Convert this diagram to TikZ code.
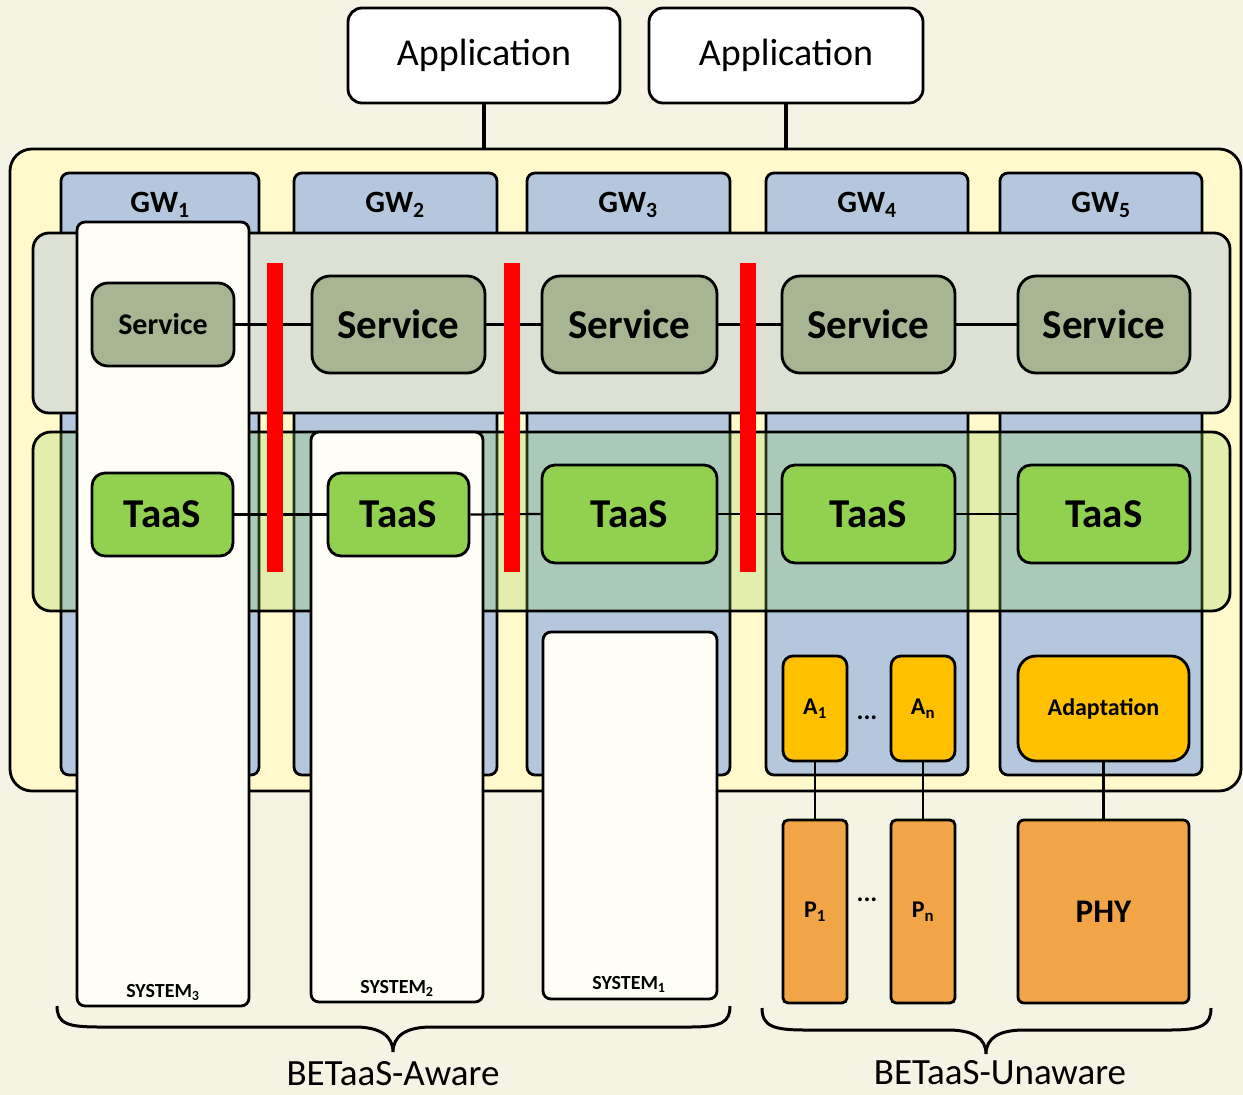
\documentclass[tikz,border=0pt]{standalone}
\usepackage{fontspec}
\setmainfont{Carlito}
\usetikzlibrary{fit}
\definecolor{cBg}{HTML}{F5F3E3}
\definecolor{cOuter}{HTML}{FFF9CC}
\definecolor{cGw}{HTML}{B4C7DD}
\definecolor{cSvcBand}{HTML}{DCE1D4}
\definecolor{cSvc}{HTML}{A7B592}
\definecolor{cTaas}{HTML}{92D050}
\definecolor{cSys}{HTML}{FEFEF6}
\definecolor{cAdapt}{HTML}{FFC000}
\definecolor{cPhy}{HTML}{F2A546}
\tikzset{
  base/.style={draw=black, line width=2.8pt, inner sep=0pt},
  outerbox/.style={base, fill=cOuter, rounded corners=22pt},
  gwcol/.style={base, fill=cGw, rounded corners=8pt},
  svcbandbox/.style={base, fill=cSvcBand, rounded corners=16pt},
  taasbandbox/.style={base, fill=cTaas, fill opacity=0.25, rounded corners=18pt},
  sysbox/.style={base, fill=cSys, rounded corners=8pt},
  svcbox/.style={base, fill=cSvc, rounded corners=18pt},
  svcsmall/.style={base, fill=cSvc, rounded corners=16pt},
  taasbox/.style={base, fill=cTaas, rounded corners=13pt},
  redbar/.style={fill=red, draw=none, inner sep=0pt},
  abox/.style={base, fill=cAdapt, rounded corners=10pt},
  adaptbox/.style={base, fill=cAdapt, rounded corners=18pt},
  pbox/.style={base, fill=cPhy, rounded corners=5pt},
  phybox/.style={base, fill=cPhy, rounded corners=6pt},
  appbox/.style={base, fill=white, rounded corners=14pt},
  bigtext/.style={inner sep=0pt, font=\bfseries\fontsize{41}{48}\selectfont},
  smallsvctext/.style={inner sep=0pt, font=\bfseries\fontsize{30}{36}\selectfont},
  smalltext/.style={inner sep=0pt, font=\bfseries\fontsize{24}{29}\selectfont},
  phytext/.style={inner sep=0pt, font=\bfseries\fontsize{33}{40}\selectfont},
  apptext/.style={inner sep=0pt, font=\fontsize{38}{46}\selectfont},
  gwlabel/.style={anchor=base, inner sep=0pt, font=\bfseries\fontsize{31}{37}\selectfont},
  syslabel/.style={anchor=base, inner sep=0pt, font=\bfseries\fontsize{20}{24}\selectfont},
  dotslabel/.style={inner sep=0pt, font=\bfseries\fontsize{26}{31}\selectfont},
  bracelabel/.style={anchor=base, inner sep=0pt, font=\fontsize{37}{44}\selectfont},
  conn/.style={draw=black, line width=2.2pt},
  appline/.style={draw=black, line width=4pt},
  bracepath/.style={draw=black, line width=3pt}
}
\begin{document}
\begin{tikzpicture}[x=1pt, y=-1pt]
\useasboundingbox (0,0) rectangle (1243,1095);
\fill[cBg] (0,0) rectangle (1243,1095);
% outer platform
\node[outerbox, fit={(10,149) (1241,791)}] (outer) {};
% gateway columns
\node[gwcol, fit={(61,173) (259,775)}] (gw1) {};
\node[gwcol, fit={(294,173) (497,775)}] (gw2) {};
\node[gwcol, fit={(527,173) (730,775)}] (gw3) {};
\node[gwcol, fit={(766,173) (968,775)}] (gw4) {};
\node[gwcol, fit={(1000,173) (1202,775)}] (gw5) {};
\node[gwlabel] (gwl1) at (160,212) {GW\textsubscript{1}};
\node[gwlabel] (gwl2) at (395,212) {GW\textsubscript{2}};
\node[gwlabel] (gwl3) at (628,212) {GW\textsubscript{3}};
\node[gwlabel] (gwl4) at (867,212) {GW\textsubscript{4}};
\node[gwlabel] (gwl5) at (1101,212) {GW\textsubscript{5}};
% bands
\node[svcbandbox, fit={(33,233) (1230,413)}] (svcband) {};
\node[taasbandbox, fit={(33,432) (1230,611)}] (taasband) {};
% systems
\node[sysbox, fit={(543,632) (717,999)}] (sys1) {};
\node[sysbox, fit={(311,432) (483,1002)}] (sys2) {};
\node[sysbox, fit={(77,222) (249,1006)}] (sys3) {};
\node[syslabel] (sysl3) at (163,997) {SYSTEM\textsubscript{3}};
\node[syslabel] (sysl2) at (397,993) {SYSTEM\textsubscript{2}};
\node[syslabel] (sysl1) at (629,989) {SYSTEM\textsubscript{1}};
% services
\node[svcsmall, fit={(92,283) (234,366)}, label={[smallsvctext]center:Service}] (s1) {};
\node[svcbox, fit={(312,276) (485,373)}, label={[bigtext]center:Service}] (s2) {};
\node[svcbox, fit={(542,276) (717,373)}, label={[bigtext]center:Service}] (s3) {};
\node[svcbox, fit={(782,276) (955,373)}, label={[bigtext]center:Service}] (s4) {};
\node[svcbox, fit={(1018,276) (1190,373)}, label={[bigtext]center:Service}] (s5) {};
% TaaS
\node[taasbox, fit={(92,473) (233,556)}, label={[bigtext]center:TaaS}] (t1) {};
\node[taasbox, fit={(328,473) (469,556)}, label={[bigtext]center:TaaS}] (t2) {};
\node[taasbox, fit={(542,465) (717,563)}, label={[bigtext]center:TaaS}] (t3) {};
\node[taasbox, fit={(782,465) (955,563)}, label={[bigtext]center:TaaS}] (t4) {};
\node[taasbox, fit={(1018,465) (1190,563)}, label={[bigtext]center:TaaS}] (t5) {};
% connectors
\draw[conn] (s1.east) -- (s2.west);
\draw[conn] (s2.east) -- (s3.west);
\draw[conn] (s3.east) -- (s4.west);
\draw[conn] (s4.east) -- (s5.west);
\draw[conn] (t1.east) -- (t2.west);
\draw[conn] (t2.east) -- (t3.west);
\draw[conn] (t3.east) -- (t4.west);
\draw[conn] (t4.east) -- (t5.west);
% red separators
\node[redbar, fit={(267,263) (283,572)}] (r1) {};
\node[redbar, fit={(504,263) (520,572)}] (r2) {};
\node[redbar, fit={(740,263) (756,572)}] (r3) {};
% adaptation
\node[abox, fit={(783,656) (847,761)}, label={[smalltext]center:A\textsubscript{1}}] (a1) {};
\node[abox, fit={(891,656) (955,761)}, label={[smalltext]center:A\textsubscript{n}}] (an) {};
\node[dotslabel] (adots) at (867,718) {...};
\node[adaptbox, fit={(1018,656) (1189,761)}, label={[smalltext]center:Adaptation}] (adapt) {};
% physical
\node[pbox, fit={(783,820) (847,1003)}, label={[smalltext]center:P\textsubscript{1}}] (p1) {};
\node[pbox, fit={(891,820) (955,1003)}, label={[smalltext]center:P\textsubscript{n}}] (pn) {};
\node[dotslabel] (pdots) at (867,900) {...};
\node[phybox, fit={(1018,820) (1189,1003)}, label={[phytext]center:PHY}] (phy) {};
\draw[conn] (a1.south) -- (p1.north);
\draw[conn] (an.south) -- (pn.north);
\draw[conn] (adapt.south) -- (phy.north);
% applications
\node[appbox, fit={(348,8) (620,103)}, label={[apptext]center:Application}] (app1) {};
\node[appbox, fit={(649,8) (923,103)}, label={[apptext]center:Application}] (app2) {};
\draw[appline] (app1.south) -- (app1.south |- outer.north);
\draw[appline] (app2.south) -- (app2.south |- outer.north);
% braces
\draw[bracepath] (57,1006) .. controls (57,1024) and (68,1027) .. (100,1027)
  -- (355,1027) .. controls (380,1027) and (393,1036) .. (393,1052)
  .. controls (393,1036) and (406,1027) .. (431,1027)
  -- (690,1027) .. controls (722,1027) and (730,1022) .. (730,1006);
\draw[bracepath] (762,1008) .. controls (762,1026) and (773,1030) .. (805,1030)
  -- (948,1030) .. controls (973,1030) and (986,1038) .. (986,1054)
  .. controls (986,1038) and (999,1030) .. (1024,1030)
  -- (1170,1030) .. controls (1202,1030) and (1211,1025) .. (1211,1008);
\node[bracelabel] (aware) at (393,1085) {BETaaS-Aware};
\node[bracelabel] (unaware) at (1000,1084) {BETaaS-Unaware};
\end{tikzpicture}
\end{document}
